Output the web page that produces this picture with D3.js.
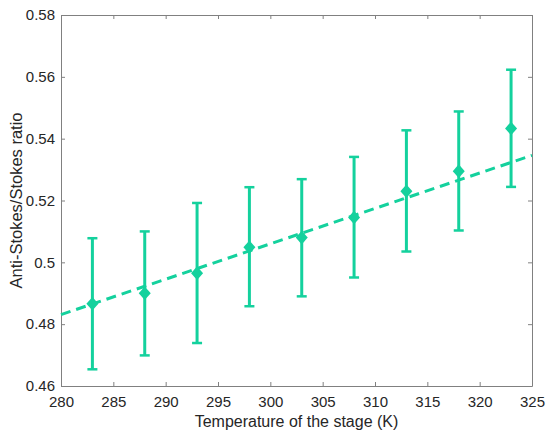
<!DOCTYPE html>
<html>
<head>
<meta charset="utf-8">
<script src="https://cdn.jsdelivr.net/npm/d3@7"></script>
<style>
  body { margin: 0; background: #fff; }
  svg { display: block; font-family: "Liberation Sans", Arial, sans-serif; }
</style>
</head>
<body>
<div id="chart"></div>
<script>
// data
const temps = [283, 288, 293, 298, 303, 308, 313, 318, 323];
const ratio = [0.4866, 0.4900, 0.4965, 0.5049, 0.5080, 0.5145, 0.5230, 0.5295, 0.5433];
const errLow = [0.4654, 0.4699, 0.4739, 0.4858, 0.4890, 0.4951, 0.5035, 0.5103, 0.5244];
const errHigh = [0.5078, 0.5100, 0.5192, 0.5243, 0.5269, 0.5341, 0.5427, 0.5488, 0.5623];
const fitX = [280, 325];
const fitY = [0.4831, 0.5346];
const xTicks = [280, 285, 290, 295, 300, 305, 310, 315, 320, 325];
const yTicks = [0.46, 0.48, 0.5, 0.52, 0.54, 0.56, 0.58];

const color = "#14d19d";
const axisColor = "#808080";
const textColor = "#262626";

const W = 550, H = 437;
const margin = {top: 15, right: 18, bottom: 51, left: 61};
const width = W - margin.left - margin.right,
      height = H - margin.top - margin.bottom;

const svg = d3.select("#chart")
    .append("svg")
        .attr("width", W)
        .attr("height", H);

const bounds = svg.append("g")
    .attr("transform", `translate(${margin.left},${margin.top})`);

const x = d3.scaleLinear().domain([280, 325]).range([0, width]);
const y = d3.scaleLinear().domain([0.46, 0.58]).range([height, 0]);

// axes (ticks pointing inward, box on all sides)
const styleAxis = g => {
    g.select(".domain").attr("stroke", axisColor).attr("stroke-width", 1);
    g.selectAll(".tick line").attr("stroke", axisColor);
    g.selectAll(".tick text").attr("fill", textColor).style("font-size", "15px");
};

bounds.append("g")
    .attr("transform", `translate(0,${height})`)
    .call(d3.axisBottom(x).tickValues(xTicks).tickSizeInner(-4).tickSizeOuter(0).tickPadding(10))
    .call(styleAxis);

bounds.append("g")
    .call(d3.axisTop(x).tickValues(xTicks).tickSizeInner(-4).tickSizeOuter(0).tickFormat(""))
    .call(styleAxis);

bounds.append("g")
    .call(d3.axisLeft(y).tickValues(yTicks).tickSizeInner(-4).tickSizeOuter(0).tickPadding(6)
        .tickFormat(d => d3.format("")(+d.toFixed(2))))
    .call(styleAxis);

bounds.append("g")
    .attr("transform", `translate(${width},0)`)
    .call(d3.axisRight(y).tickValues(yTicks).tickSizeInner(-4).tickSizeOuter(0).tickFormat(""))
    .call(styleAxis);

// axis titles
svg.append("text")
    .attr("x", margin.left + width / 2)
    .attr("y", 427)
    .attr("text-anchor", "middle")
    .attr("fill", textColor)
    .style("font-size", "16px")
    .text("Temperature of the stage (K)");

svg.append("text")
    .attr("transform", `translate(22,${margin.top + height / 2}) rotate(-90)`)
    .attr("text-anchor", "middle")
    .attr("fill", textColor)
    .style("font-size", "16.5px")
    .text("Anti-Stokes/Stokes ratio");

// fit line
bounds.append("line")
    .attr("x1", x(fitX[0]))
    .attr("y1", y(fitY[0]))
    .attr("x2", x(fitX[1]))
    .attr("y2", y(fitY[1]))
    .attr("stroke", color)
    .attr("stroke-width", 3)
    .attr("stroke-dasharray", "10,6");

// error bars
const data = temps.map((t, i) => ({t, v: ratio[i], lo: errLow[i], hi: errHigh[i]}));

const bars = bounds.append("g").selectAll("g")
    .data(data)
    .join("g");

bars.append("line")
    .attr("x1", d => x(d.t)).attr("x2", d => x(d.t))
    .attr("y1", d => y(d.lo)).attr("y2", d => y(d.hi))
    .attr("stroke", color).attr("stroke-width", 3);

bars.append("line")
    .attr("x1", d => x(d.t) - 5).attr("x2", d => x(d.t) + 5)
    .attr("y1", d => y(d.hi)).attr("y2", d => y(d.hi))
    .attr("stroke", color).attr("stroke-width", 2.5);

bars.append("line")
    .attr("x1", d => x(d.t) - 5).attr("x2", d => x(d.t) + 5)
    .attr("y1", d => y(d.lo)).attr("y2", d => y(d.lo))
    .attr("stroke", color).attr("stroke-width", 2.5);

// diamond markers
bars.append("path")
    .attr("d", "M0,-6.8L6,0L0,6.8L-6,0Z")
    .attr("transform", d => `translate(${x(d.t)},${y(d.v)})`)
    .attr("fill", color);
</script>
</body>
</html>
